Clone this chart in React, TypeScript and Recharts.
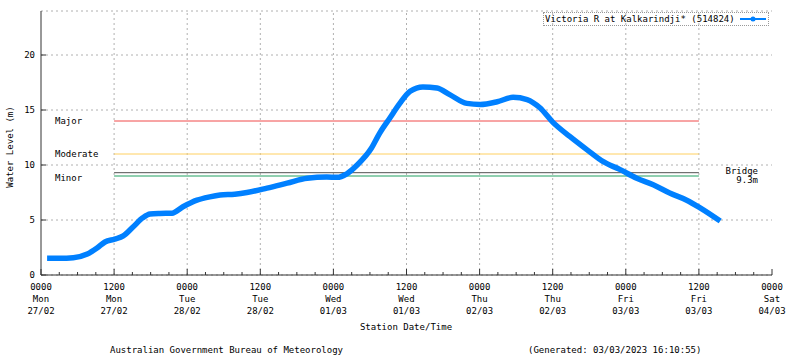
import React from 'react';
import { LineChart, Line, XAxis, YAxis, CartesianGrid, ReferenceLine, ReferenceDot, Legend } from 'recharts';

// hours since 0000 Mon 27/02
const hours = [1.0, 3.1, 5.3, 7.6, 9.2, 10.5, 12.1, 13.5, 15.1, 16.7, 17.9, 19.5, 21.5, 23.3, 25.6, 27.7, 29.4, 31.8, 33.8, 37.1, 40.4, 43.7, 46.9, 48.6, 50.2, 51.9, 54.2, 55.6, 57.3, 58.9, 60.6, 62.7, 65.0, 67.1, 69.9, 72.1, 74.9, 77.5, 79.8, 81.9, 84.0, 86.8, 89.6, 92.3, 95.0, 97.8, 100.5, 103.2, 106.0, 108.2, 111.5];
const levels = [1.52, 1.52, 1.57, 1.9, 2.45, 3.0, 3.27, 3.55, 4.36, 5.2, 5.55, 5.6, 5.62, 6.2, 6.8, 7.1, 7.27, 7.35, 7.5, 7.9, 8.35, 8.8, 8.9, 8.88, 9.2, 10.0, 11.5, 12.9, 14.3, 15.6, 16.7, 17.1, 17.0, 16.4, 15.6, 15.5, 15.75, 16.15, 15.95, 15.2, 13.9, 12.6, 11.4, 10.3, 9.6, 8.8, 8.2, 7.45, 6.8, 6.1, 4.9];

const xTicks = [0, 3, 6, 9, 12, 15, 18, 21, 24, 27, 30, 33, 36, 39, 42, 45, 48, 51, 54, 57, 60, 63, 66, 69, 72, 75, 78, 81, 84, 87, 90, 93, 96, 99, 102, 105, 108, 111, 114, 117, 120];
const majorHours = [0, 12, 24, 36, 48, 60, 72, 84, 96, 108, 120];
const tickTimes = ['0000', '1200', '0000', '1200', '0000', '1200', '0000', '1200', '0000', '1200', '0000'];
const tickDays = ['Mon', 'Mon', 'Tue', 'Tue', 'Wed', 'Wed', 'Thu', 'Thu', 'Fri', 'Fri', 'Sat'];
const tickDates = ['27/02', '27/02', '28/02', '28/02', '01/03', '01/03', '02/03', '02/03', '03/03', '03/03', '04/03'];
const yTicks = [0, 5, 10, 15, 20];

const thresholdNames = ['Major', 'Moderate', 'Bridge', 'Minor'];
const thresholdLevels = [14, 11, 9.3, 9];
const thresholdColors = ['#f04a4a', '#ffd060', '#505050', '#20a060'];
const thresholdStart = 12;
const thresholdEnd = 108;
const leftLabels = ['Major', 'Moderate', 'Minor'];
const leftLabelLevels = [14, 11, 8.85];

const seriesName = 'Victoria R at Kalkarindji* (514824)';
const FONT = 'DejaVu Sans Mono';
const FS = 9;
const BLUE = '#0080ff';
const AXIS = '#333';

const data = hours.map((h, i) => ({ h, level: levels[i] }));

const BottomTick = (props: any) => {
  const { x, y, payload } = props;
  const v = payload.value;
  const idx = majorHours.indexOf(v);
  const major = idx >= 0;
  return (
    <g>
      <line x1={x} x2={x} y1={y} y2={y - (major ? 6 : 3)} stroke={AXIS} />
      {major && (
        <text x={x} y={y} textAnchor="middle" fontFamily={FONT} fontSize={FS} fill="#000">
          <tspan x={x} dy={15}>{tickTimes[idx]}</tspan>
          <tspan x={x} dy={12}>{tickDays[idx]}</tspan>
          <tspan x={x} dy={12}>{tickDates[idx]}</tspan>
        </text>
      )}
    </g>
  );
};

const TopTick = (props: any) => {
  const { x, y, payload } = props;
  const major = majorHours.indexOf(payload.value) >= 0;
  return <line x1={x} x2={x} y1={y} y2={y + (major ? 6 : 3)} stroke={AXIS} />;
};

const LeftTick = (props: any) => {
  const { x, y, payload } = props;
  return (
    <g>
      <line x1={x} x2={x + 5} y1={y} y2={y} stroke={AXIS} />
      <text x={x - 6} y={y + 3.3} textAnchor="end" fontFamily={FONT} fontSize={FS} fill="#000">{payload.value}</text>
    </g>
  );
};

const RightTick = (props: any) => {
  const { x, y } = props;
  return <line x1={x} x2={x - 5} y1={y} y2={y} stroke={AXIS} />;
};

const LegendBox = () => (
  <div style={{ width: 226, height: 14, border: '1px dotted #999', boxSizing: 'border-box', display: 'flex', alignItems: 'center', fontFamily: FONT, fontSize: FS, whiteSpace: 'nowrap', color: '#000', lineHeight: '12px' }}>
    <span style={{ marginLeft: 1 }}>{seriesName}</span>
    <svg width={28} height={10} style={{ marginLeft: 5 }}>
      <line x1={0} y1={5} x2={26} y2={5} stroke={BLUE} strokeWidth={2} />
      <circle cx={13} cy={5} r={2.5} fill={BLUE} />
    </svg>
  </div>
);

export default function App() {
  return (
    <div style={{ position: 'absolute', left: 0, top: 0, width: 800, height: 358, background: '#fff' }}>
      <LineChart width={800} height={358} data={data} margin={{ top: 11, right: 28, bottom: 0, left: 0 }}>
        <CartesianGrid vertical={false} stroke="#b0b0b0" strokeDasharray="2 3" />
        {majorHours.slice(1, -1).map((h) => (
          <ReferenceLine key={'g' + h} x={h} stroke="#b0b0b0" strokeDasharray="2 3" />
        ))}
        <XAxis dataKey="h" type="number" domain={[0, 120]} ticks={xTicks} interval={0} height={83}
          tickSize={0} tickMargin={0} tickLine={false} axisLine={{ stroke: AXIS }} tick={<BottomTick />} />
        <XAxis xAxisId="t" orientation="top" type="number" domain={[0, 120]} ticks={xTicks} interval={0} height={0}
          tickSize={0} tickMargin={0} tickLine={false} axisLine={{ stroke: AXIS }} tick={<TopTick />} />
        <YAxis type="number" domain={[0, 24]} ticks={yTicks} interval={0} width={41}
          tickSize={0} tickMargin={0} tickLine={false} axisLine={{ stroke: AXIS }} tick={<LeftTick />} />
        <YAxis yAxisId="r" orientation="right" type="number" domain={[0, 24]} ticks={yTicks} interval={0} width={0}
          tickSize={0} tickMargin={0} tickLine={false} axisLine={{ stroke: AXIS }} tick={<RightTick />} />
        {thresholdNames.map((n, i) => (
          <ReferenceLine key={n} segment={[{ x: thresholdStart, y: thresholdLevels[i] }, { x: thresholdEnd, y: thresholdLevels[i] }]}
            stroke={thresholdColors[i]} strokeWidth={1} />
        ))}
        {leftLabels.map((n, i) => (
          <ReferenceDot key={'l' + n} x={2.3} y={leftLabelLevels[i]} r={0}
            shape={(p: any) => <text x={p.cx} y={p.cy + 3.3} fontFamily={FONT} fontSize={FS} fill="#000">{n}</text>} />
        ))}
        <ReferenceDot x={117.7} y={9.3} r={0}
          shape={(p: any) => (
            <text x={p.cx} y={p.cy + 1.5} textAnchor="end" fontFamily={FONT} fontSize={FS} fill="#000">
              <tspan x={p.cx}>Bridge</tspan>
              <tspan x={p.cx} dy={9}>9.3m</tspan>
            </text>
          )} />
        <Line type="monotone" dataKey="level" name={seriesName} stroke={BLUE} strokeWidth={5.5} dot={false} isAnimationActive={false} />
        <Legend layout="vertical" align="center" verticalAlign="middle" content={<LegendBox />}
          wrapperStyle={{ position: 'absolute', top: 12, left: 543, width: 226, height: 15 }} />
      </LineChart>
      <svg width={800} height={358} style={{ position: 'absolute', left: 0, top: 0, pointerEvents: 'none' }}>
        <text x={10} y={147} transform="rotate(-90 10 147)" textAnchor="middle" dominantBaseline="central" fontFamily={FONT} fontSize={FS} fill="#000">Water Level (m)</text>
        <text x={406} y={330} textAnchor="middle" fontFamily={FONT} fontSize={FS} fill="#000">Station Date/Time</text>
        <text x={110} y={353} fontFamily={FONT} fontSize={FS} fill="#000">Australian Government Bureau of Meteorology</text>
        <text x={528} y={353} fontFamily={FONT} fontSize={FS} fill="#000">(Generated: 03/03/2023 16:10:55)</text>
      </svg>
    </div>
  );
}
